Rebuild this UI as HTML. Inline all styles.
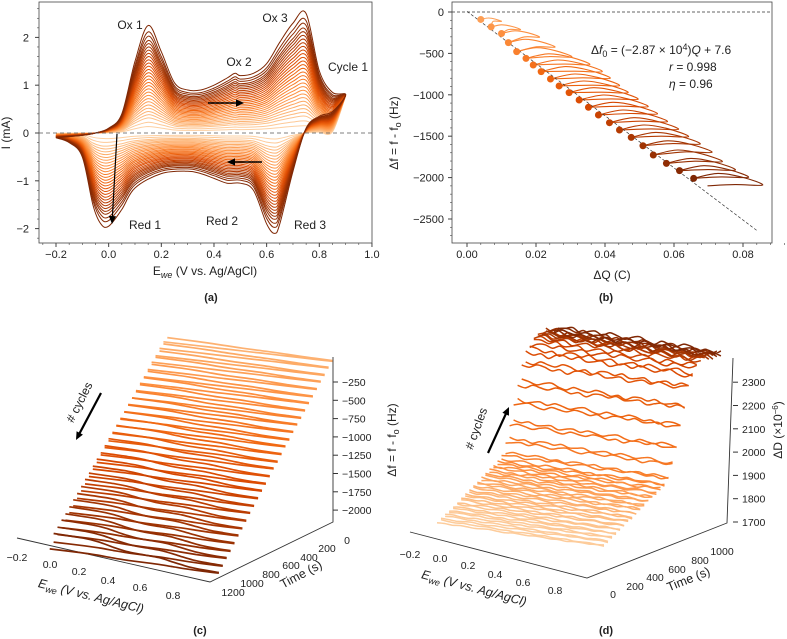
<!DOCTYPE html>
<html><head><meta charset="utf-8"><style>
body{margin:0;background:#fff;}
svg{display:block;font-family:"Liberation Sans","DejaVu Sans",sans-serif;}
</style></head><body>
<svg id="s" width="787" height="639" viewBox="0 0 787 639" xmlns="http://www.w3.org/2000/svg"></svg>
<script>
// ---------- DATA ----------
const cvAnodicE=[-0.2,-0.1,-0.05,0,0.05,0.1,0.15,0.2,0.25,0.3,0.35,0.4,0.45,0.48,0.5,0.55,0.6,0.65,0.7,0.75,0.8,0.85,0.9];
const cvAnodicI=[-0.1,-0.05,0,0.1,0.4,1.5,2.25,1.7,1.05,0.9,0.9,1.0,1.15,1.25,1.2,1.25,1.45,1.9,2.3,2.5,1.3,0.85,0.8];
const cvCathE=[0.9,0.85,0.8,0.75,0.7,0.65,0.63,0.6,0.55,0.5,0.45,0.4,0.35,0.3,0.2,0.1,0.05,0,-0.03,-0.06,-0.1,-0.15,-0.2];
const cvCathI=[0.8,0.45,0.35,0.1,-0.8,-1.9,-2.1,-1.9,-1.2,-1.05,-1.05,-0.95,-0.85,-0.8,-0.85,-1.15,-1.6,-1.95,-1.9,-1.5,-0.5,-0.2,-0.1];
const cycleScale=[0.06,0.1,0.14,0.17,0.2,0.23,0.26,0.29,0.32,0.35,0.38,0.41,0.44,0.47,0.5,0.53,0.56,0.59,0.62,0.65,0.68,0.71,0.74,0.77,0.8,0.83,0.86,0.9,0.94,1.0];
// Panel (b)
const dotQ=[0.004,0.007,0.010,0.012,0.0144,0.0171,0.0192,0.0215,0.0242,0.0267,0.0296,0.0325,0.0352,0.0381,0.0413,0.0442,0.0476,0.051,0.054,0.0578,0.0616,0.0657];
const dotF=[-90,-180,-260,-370,-479,-560,-640,-720,-809,-893,-974,-1063,-1151,-1244,-1337,-1425,-1514,-1615,-1727,-1828,-1916,-2009];
const fitSlope=-3.15e4, fitIntercept=7.6; // plotted fit line as drawn
// Panel (c)
const cCycleDf=[-60,-120,-190,-250,-320,-390,-450,-520,-590,-650,-720,-790,-850,-920,-990,-1050,-1120,-1190,-1250,-1320,-1390,-1450,-1520,-1590,-1650,-1720,-1790,-1850,-1920,-1980];
const cShapeE=[-0.2,0,0.1,0.2,0.3,0.4,0.5,0.6,0.7,0.8,0.9];
const cShapeDrop=[0,0.05,0.15,0.35,0.5,0.55,0.6,0.75,0.9,0.97,1];
const cDropHz=[30,35,40,45,50,55,60,65,70,75,80,88,96,104,112,120,128,136,144,152,160,170,180,190,200,210,220,230,240,250];
// Panel (d)
const dCycleD=[1720,1730,1740,1749,1758,1768,1778,1787,1797,1807,1816,1826,1836,1846,1856,1866,1888,1937,2001,2085,2158,2235,2282,2308,2328,2328,2326,2324,2322,2320];
const dNoise=[0,3,-2,4,1,-3,2,5,-1,-4,3,0,-2,4,2,-3,1,-5,2,3,-1,4,-2,0,3,-4];

// ---------- HELPERS ----------
const NS="http://www.w3.org/2000/svg", svg=document.getElementById('s');
function el(tag,attrs,parent){const e=document.createElementNS(NS,tag);for(const k in attrs)e.setAttribute(k,attrs[k]);(parent||svg).appendChild(e);return e;}
function txt(x,y,s,size,anchor,parent,rot,name){const t=el('text',{x:x,y:y,'font-size':size,'text-anchor':anchor||'middle',fill:'#222'},parent);
 if(rot)t.setAttribute('transform','rotate('+rot+' '+x+' '+y+')');t.textContent=s;
 
 
 return t;}
const stops=['#fdd0a2','#fdae6b','#fd8d3c','#f16913','#d94801','#a63603','#7f2704'];
function hex(h){return [1,3,5].map(i=>parseInt(h.substr(i,2),16));}
function cmap(f){f=Math.max(0,Math.min(1,f));const p=f*(stops.length-1),i=Math.min(stops.length-2,Math.floor(p)),r=p-i;
 const a=hex(stops[i]),b=hex(stops[i+1]);return 'rgb('+a.map((v,k)=>Math.round(v+(b[k]-v)*r)).join(',')+')';}
function smooth(pts){let d='M'+pts[0][0].toFixed(1)+','+pts[0][1].toFixed(1);
 for(let i=0;i<pts.length-1;i++){const p0=pts[i-1]||pts[i],p1=pts[i],p2=pts[i+1],p3=pts[i+2]||p2;
  d+='C'+(p1[0]+(p2[0]-p0[0])/6).toFixed(1)+','+(p1[1]+(p2[1]-p0[1])/6).toFixed(1)+' '+(p2[0]-(p3[0]-p1[0])/6).toFixed(1)+','+(p2[1]-(p3[1]-p1[1])/6).toFixed(1)+' '+p2[0].toFixed(1)+','+p2[1].toFixed(1);}
 return d;}
function arrow(g,x1,y1,x2,y2,w,name){const a=Math.atan2(y2-y1,x2-x1),h=8;
 const l=el('line',{x1:x1,y1:y1,x2:x2-Math.cos(a)*h*0.8,y2:y2-Math.sin(a)*h*0.8,stroke:'#000','stroke-width':w},g);
 
 
 const p=el('polygon',{points:[x2,y2,x2-Math.cos(a)*h+Math.sin(a)*h*0.45,y2-Math.sin(a)*h-Math.cos(a)*h*0.45,x2-Math.cos(a)*h-Math.sin(a)*h*0.45,y2-Math.sin(a)*h+Math.cos(a)*h*0.45].join(' '),fill:'#000'},g);
 
 }

// ---------- PANEL A ----------
(function(){
 const g=el('g',{});
 const L=39,R=372,T=2,B=243;
 const xs=e=>56+(e+0.2)*263.3, ys=i=>133-i*47.8;
 const clip=el('clipPath',{id:'ca'},g);el('rect',{x:L,y:T,width:R-L,height:B-T},clip);
 const cg=el('g',{'clip-path':'url(#ca)'},g);
 const n=cycleScale.length;
 for(let c=0;c<n;c++){const k=cycleScale[c];
  const pts=[];cvAnodicE.forEach((e,i)=>pts.push([xs(e),ys(cvAnodicI[i]*k+(i==cvAnodicE.length-1?0.8*(1-k):0))]));
  cvCathE.forEach((e,i)=>{if(i>0)pts.push([xs(e),ys(cvCathI[i]*k)]);});
  const p=el('path',{d:smooth(pts)+'Z',fill:'none',stroke:cmap(c/(n-1)),'stroke-width':1},cg);
  
  }
 el('line',{x1:L,y1:ys(0),x2:R,y2:ys(0),stroke:'#555','stroke-dasharray':'4,3','stroke-width':0.8},g);
 const fr=el('rect',{x:L,y:T,width:R-L,height:B-T,fill:'none',stroke:'#444','stroke-width':0.8},g);
 
 [-0.2,0,0.2,0.4,0.6,0.8,1.0].forEach(v=>{el('line',{x1:xs(v),y1:B,x2:xs(v),y2:B+4,stroke:'#444'},g);txt(xs(v),B+15,(v<0?'−':'')+Math.abs(v).toFixed(1),11,'middle',g,0,'x-tick-label');});
 for(let v=-0.25;v<1.0;v+=0.05){const x=xs(v);if(x>L)el('line',{x1:x,y1:B,x2:x,y2:B+2,stroke:'#444','stroke-width':0.6},g);}
 [-2,-1,0,1,2].forEach(v=>{el('line',{x1:L-4,y1:ys(v),x2:L,y2:ys(v),stroke:'#444'},g);txt(L-10,ys(v)+4,(v<0?'−':'')+Math.abs(v),11,'end',g,0,'y-tick-label');});
 for(let v=-2.2;v<2.7;v+=0.2){el('line',{x1:L-2,y1:ys(v),x2:L,y2:ys(v),stroke:'#444','stroke-width':0.6},g);}
 txt(10,133,'I (mA)',12,'middle',g,-90,'y-axis-title');
 const xl=txt(205,275,'',12,'middle',g,0,'x-axis-title');xl.innerHTML='E<tspan font-size="9" dy="3" font-style="italic">we</tspan><tspan dy="-3"> (V vs. Ag/AgCl)</tspan>';
 txt(130,29,'Ox 1',12,'middle',g,0,'ox1-label');txt(275,22,'Ox 3',12,'middle',g,0,'ox3-label');
 txt(239,66,'Ox 2',12,'middle',g,0,'ox2-label');txt(348,71,'Cycle 1',12,'middle',g,0,'cycle1-label');
 txt(145,229,'Red 1',12,'middle',g,0,'red1-label');txt(222,225,'Red 2',12,'middle',g,0,'red2-label');txt(310,229,'Red 3',12,'middle',g,0,'red3-label');
 arrow(g,208,103,244,103,1.4,'forward-arrow');arrow(g,262,162,227,162,1.4,'reverse-arrow');arrow(g,117,134,112,224,1.2,'growth-arrow');
 txt(211,301,'(a)',11,'middle',g,0,'panel-label-a').setAttribute('font-weight','bold');
})();

// ---------- PANEL B ----------
(function(){
 const g=el('g',{});
 const L=452,R=772,T=2,B=243;
 const xs=q=>467+q*3450, ys=f=>12-f*0.0828;
 const clip=el('clipPath',{id:'cb'},g);el('rect',{x:L,y:T,width:R-L,height:B-T},clip);
 const cg=el('g',{'clip-path':'url(#cb)'},g);
 el('line',{x1:L,y1:ys(0),x2:R,y2:ys(0),stroke:'#333','stroke-dasharray':'3,2','stroke-width':0.7},cg);
 const n=dotQ.length;
 for(let i=0;i<n;i++){const q=dotQ[i],f=dotF[i];
  const qn=i<n-1?dotQ[i+1]:q+0.004,fn=i<n-1?dotF[i+1]:f-90;
  const sz=Math.min(1,0.3+i/8);
  const pts=[[xs(q),ys(f)],[xs(q+0.007*sz),ys(f+60*sz)],[xs(q+0.014*sz),ys(f+15*sz)],[xs(q+0.02*sz),ys(f-80*sz)],[xs(q+0.012*sz),ys(f-75*sz)],[xs(qn),ys(fn)]];
  const p=el('path',{d:smooth(pts),fill:'none',stroke:cmap(0.25+0.75*i/(n-1)),'stroke-width':1.1},cg);
  }
 const fl=el('line',{x1:xs(0),y1:ys(fitIntercept),x2:xs(0.084),y2:ys(fitSlope*0.084+fitIntercept),stroke:'#333','stroke-dasharray':'3,2','stroke-width':0.7},cg);
 
 for(let i=0;i<n;i++){const c=el('circle',{cx:xs(dotQ[i]),cy:ys(dotF[i]),r:3.5,fill:cmap(0.25+0.75*i/(n-1))},cg);
  }
 const fr=el('rect',{x:L,y:T,width:R-L,height:B-T,fill:'none',stroke:'#444','stroke-width':0.8},g);
 
 [0,0.02,0.04,0.06,0.08].forEach(v=>{el('line',{x1:xs(v),y1:B,x2:xs(v),y2:B+4,stroke:'#444'},g);txt(xs(v),B+15,v.toFixed(2),11,'middle',g,0,'x-tick-label');});
 for(let v=0;v<0.095;v+=0.004)el('line',{x1:xs(v),y1:B,x2:xs(v),y2:B+2,stroke:'#444','stroke-width':0.6},g);
 [0,-500,-1000,-1500,-2000,-2500].forEach(v=>{el('line',{x1:L-4,y1:ys(v),x2:L,y2:ys(v),stroke:'#444'},g);txt(L-8,ys(v)+4,(v<0?'−':'')+Math.abs(v),11,'end',g,0,'y-tick-label');});
 for(let v=0;v>-2800;v-=100)el('line',{x1:L-2,y1:ys(v),x2:L,y2:ys(v),stroke:'#444','stroke-width':0.6},g);
 const yl=txt(398,133,'',12,'middle',g,-90,'y-axis-title');yl.innerHTML='Δf = f - f<tspan font-size="9" dy="3">o</tspan><tspan dy="-3"> (Hz)</tspan>';
 txt(612,279,'ΔQ (C)',12,'middle',g,0,'x-axis-title');
 const eq=txt(591,54,'',12,'start',g,0,'fit-equation');eq.innerHTML='Δ<tspan font-style="italic">f</tspan><tspan font-size="9" dy="3">0</tspan><tspan dy="-3"> = (−2.87 × 10</tspan><tspan font-size="9" dy="-4">4</tspan><tspan dy="4">)</tspan><tspan font-style="italic">Q</tspan> + 7.6';
 const r=txt(669,71,'',12,'start',g,0,'r-value');r.innerHTML='<tspan font-style="italic">r</tspan> = 0.998';
 const e2=txt(669,88,'',12,'start',g,0,'eta-value');e2.innerHTML='<tspan font-style="italic">η</tspan> = 0.96';
 txt(606,301,'(b)',11,'middle',g,0,'panel-label-b').setAttribute('font-weight','bold');
})();

// ---------- PANEL C ----------
(function(){
 const g=el('g',{});
 const C=[212,570],E0=0.9,T0=1250,F0=-2150;
 const P=(e,t,f)=>[C[0]+(e-E0)*152-(t-T0)*0.098,C[1]+(e-E0)*18+(t-T0)*0.048-(f-F0)*0.073];
 el('polyline',{points:[[17,538],[210,582],[333,522],[333,357]].join(' '),fill:'none',stroke:'#333','stroke-width':0.9},g);
 const n=cCycleDf.length;
 for(let c=0;c<n;c++){const t0=c*40,f0=cCycleDf[c],drop=cDropHz[c];
  const fw=cShapeE.map((e,i)=>P(e,t0+20*(e+0.2)/1.1,f0-drop*cShapeDrop[i]));
  const bk=cShapeE.slice().reverse().map((e,j)=>{const i=cShapeE.length-1-j;return P(e,t0+20+20*(0.9-e)/1.1,f0-drop+drop*0.3*(1-cShapeDrop[i])-10);});
  const col=cmap(0.15+0.85*c/(n-1));
  const p=el('path',{d:smooth(fw)+smooth(bk),fill:'none',stroke:col,'stroke-width':1.7},g);
  }
 [-250,-500,-750,-1000,-1250,-1500,-1750,-2000].forEach((v,i)=>{const y=382+i*18.3;el('line',{x1:333,y1:y,x2:338,y2:y,stroke:'#333'},g);txt(342,y+4,'−'+Math.abs(v),10.5,'start',g,0,'z-tick-label');});
 const zl=txt(396,440,'',12,'middle',g,-90,'z-axis-title');zl.innerHTML='Δf = f - f<tspan font-size="9" dy="3">o</tspan><tspan dy="-3"> (Hz)</tspan>';
 [['−0.2',17,561],['0.0',50,568],['0.2',79,575],['0.4',108,584],['0.6',140,591],['0.8',173,599]].forEach(a=>txt(a[1],a[2],a[0],10.5,'middle',g,0,'x-tick-label'));
 [['0',347,544],['200',327,552],['400',309,561],['600',291,569],['800',271,578],['1000',252,587],['1200',233,596]].forEach(a=>txt(a[1],a[2],a[0],10.5,'middle',g,0,'time-tick-label'));
 const xl=txt(90,600,'',12.5,'middle',g,14,'x-axis-title');xl.innerHTML='<tspan font-style="italic">E</tspan><tspan font-size="9" dy="3" font-style="italic">we</tspan><tspan dy="-3" font-style="italic"> (V vs. Ag/AgCl)</tspan>';
 txt(303,578,'Time (s)',12.5,'middle',g,-28,'time-axis-title');
 txt(83,404,'# cycles',12,'middle',g,-63,'cycles-label');arrow(g,101,393,76,440,2.2,'cycles-arrow-c');
 txt(200,634,'(c)',11,'middle',g,0,'panel-label-c').setAttribute('font-weight','bold');
})();

// ---------- PANEL D ----------
(function(){
 const g=el('g',{});
 const E0=0.9,D0=1720,K=[602,547];
 const P=(e,t,d)=>[K[0]+(e-E0)*150+t*0.112,K[1]+(e-E0)*22-t*0.05-(d-D0)*0.233];
 el('polyline',{points:[[410,532],[587,578],[727,523],[733,358]].join(' '),fill:'none',stroke:'#333','stroke-width':0.9},g);
 const n=dCycleD.length,m=22;
 for(let c=0;c<n;c++){const t0=c*36,d0=dCycleD[c],amp=c<16?0.5+c*0.05:Math.min(2.6,1.4+(c-16)*0.2);
  const pts=[];for(let j=0;j<=m;j++){const e=-0.2+1.1*j/m;pts.push(P(e,t0+18*j/m,d0+dNoise[(j+c*3)%dNoise.length]*amp));}
  const pts2=[];for(let j=m;j>=0;j--){const e=-0.2+1.1*j/m;pts2.push(P(e,t0+18+18*(m-j)/m,d0+(c>16?8:3)+dNoise[(j+c*5+7)%dNoise.length]*amp));}
  const p=el('path',{d:smooth(pts)+smooth(pts2),fill:'none',stroke:cmap(0.02+0.98*Math.pow(c/(n-1),1.6)),'stroke-width':1.5},g);
  }
 [1700,1800,1900,2000,2100,2200,2300].forEach((v,i)=>{const y=522-i*23.3;el('line',{x1:733,y1:y,x2:738,y2:y,stroke:'#333'},g);txt(742,y+4,''+v,10.5,'start',g,0,'z-tick-label');});
 const zl=txt(782,430,'',12,'middle',g,-90,'z-axis-title');zl.innerHTML='ΔD (×10<tspan font-size="8" dy="-4">−6</tspan><tspan dy="4">)</tspan>';
 [['−0.2',410,558],['0.0',440,562],['0.2',468,569],['0.4',495,578],['0.6',523,586],['0.8',555,594]].forEach(a=>txt(a[1],a[2],a[0],10.5,'middle',g,0,'x-tick-label'));
 [['0',613,598],['200',635,590],['400',655,581],['600',677,573],['800',700,564],['1000',722,555]].forEach(a=>txt(a[1],a[2],a[0],10.5,'middle',g,0,'time-tick-label'));
 const xl=txt(473,592,'',12.5,'middle',g,15,'x-axis-title');xl.innerHTML='<tspan font-style="italic">E</tspan><tspan font-size="9" dy="3" font-style="italic">we</tspan><tspan dy="-3" font-style="italic"> (V vs. Ag/AgCl)</tspan>';
 txt(690,583,'Time (s)',12.5,'middle',g,-22,'time-axis-title');
 txt(480,430,'# cycles',12,'middle',g,-70,'cycles-label');arrow(g,488,453,509,407,2.2,'cycles-arrow-d');
 txt(606,634,'(d)',11,'middle',g,0,'panel-label-d').setAttribute('font-weight','bold');
})();
</script>
</body></html>
